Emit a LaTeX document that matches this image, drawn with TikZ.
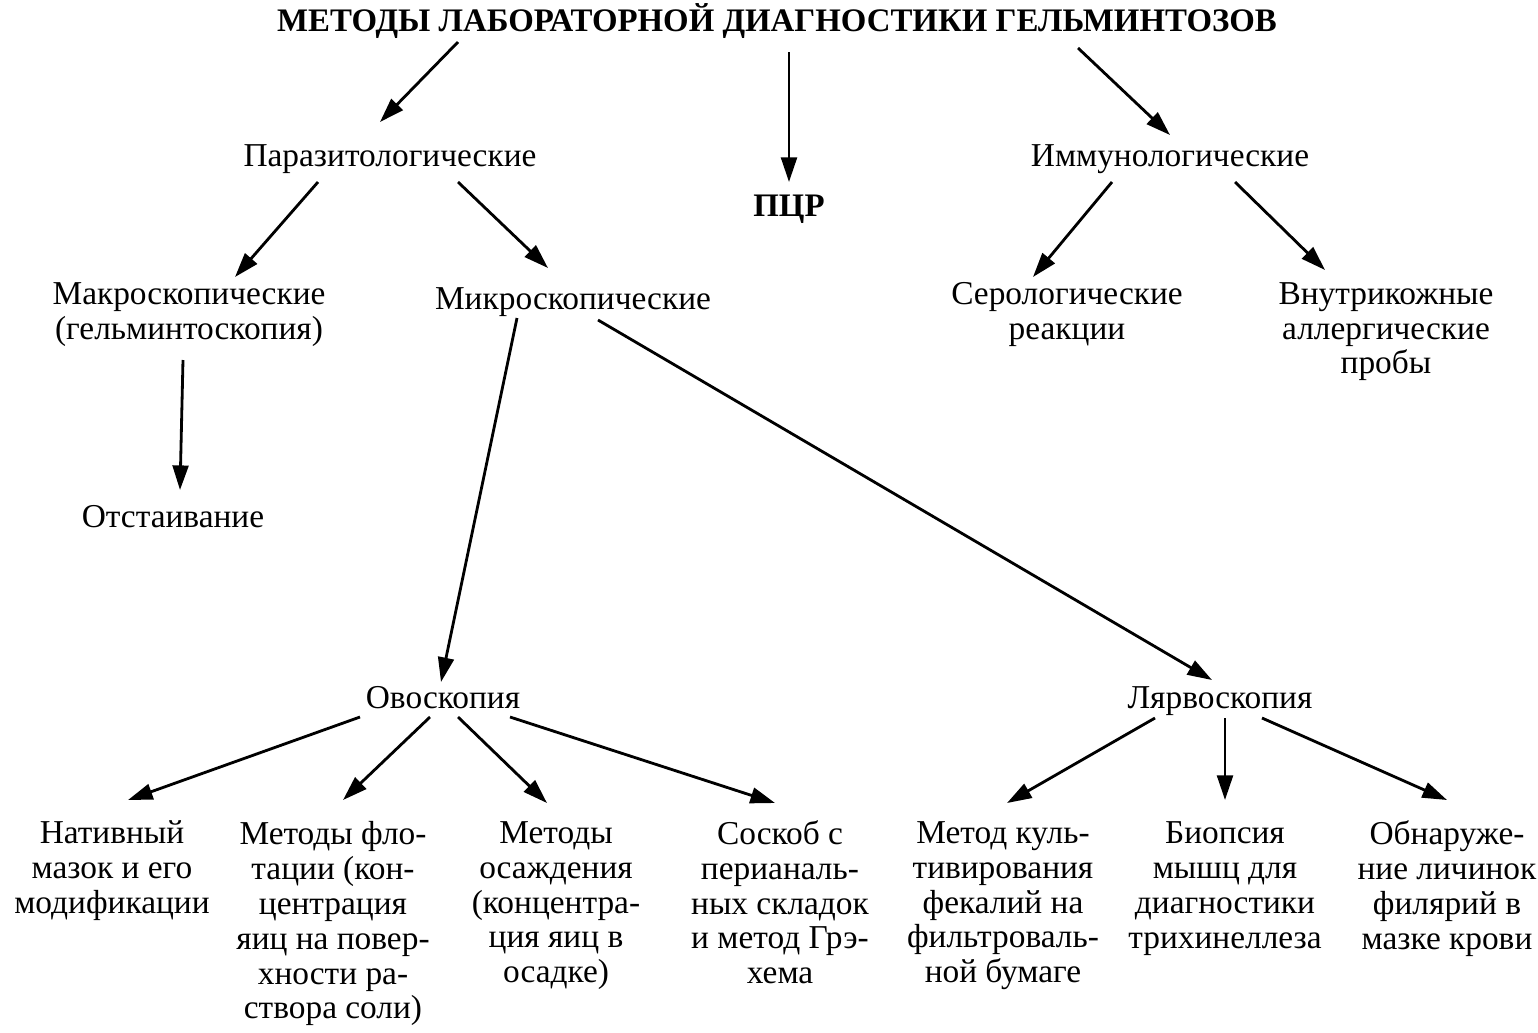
\documentclass[tikz,border=0pt]{standalone}
\usepackage{fontspec}
\setmainfont{Liberation Serif}
\usetikzlibrary{arrows.meta, calc}
\newcommand{\lnstrut}{\rule[-0.28\baselineskip]{0pt}{1.22\baselineskip}}

\begin{document}
\begin{tikzpicture}[
  x=0.02cm, y=-0.02cm,
  txt/.style={inner sep=0pt, align=center, font=\fontsize{19}{19.85}\selectfont,
    execute at begin node=\lnstrut, execute at end node=\lnstrut},
  hd/.style={txt, font=\fontsize{18.7}{19.85}\selectfont\bfseries},
  ar/.style={-{Triangle[length=14pt, width=9pt]}, line width=1.6pt, black},
]
  \useasboundingbox (0,0) rectangle (1538,1032);

  % levels
  \node[hd]  (title)  at (777,20)  {МЕТОДЫ ЛАБОРАТОРНОЙ ДИАГНОСТИКИ ГЕЛЬМИНТОЗОВ};
  \node[txt] (parasit) at (390,155) {Паразитологические};
  \node[hd]  (pcr)    at (789,205) {ПЦР};
  \node[txt] (immun)  at (1170,155) {Иммунологические};
  \node[txt] (macro)  at (189,316) {Макроскопические\\(гельминтоскопия)};
  \node[txt] (micro)  at (573,298) {Микроскопические};
  \node[txt] (sero)   at (1067,316) {Серологические\\реакции};
  \node[txt] (vnutri) at (1386,333) {Внутрикожные\\аллергические\\пробы};
  \node[txt] (otst)   at (173,516) {Отстаивание};
  \node[txt] (ovo)    at (443,697) {Овоскопия};
  \node[txt] (lyarvo) at (1220,697) {Лярвоскопия};

  % bottom row
  \node[txt] (native) at (112,872) {Нативный\\мазок и его\\модификации};
  \node[txt] (flot)   at (333,925) {Методы фло-\\тации (кон-\\центрация\\яиц на повер-\\хности ра-\\створа соли)};
  \node[txt] (osazh)  at (556,907) {Методы\\осаждения\\(концентра-\\ция яиц в\\осадке)};
  \node[txt] (soskob) at (780,907) {Соскоб с\\перианаль-\\ных складок\\и метод Грэ-\\хема};
  \node[txt] (kult)   at (1003,907) {Метод куль-\\тивирования\\фекалий на\\фильтроваль-\\ной бумаге};
  \node[txt] (biop)   at (1225,890) {Биопсия\\мышц для\\диагностики\\трихинеллеза};
  \node[txt] (obnar)  at (1447,890) {Обнаруже-\\ние личинок\\филярий в\\мазке крови};

  \draw[ar] ($(title)+(-319,22)$) -- ($(parasit)+(-10,-33)$);
  \draw[ar] ($(title)+(12,32)$) -- ($(pcr)+(0,-23)$);
  \draw[ar] ($(title)+(301,28)$) -- ($(immun)+(0,-20)$);
  \draw[ar] ($(parasit)+(-72,27)$) -- ($(macro)+(46,-39)$);
  \draw[ar] ($(parasit)+(68,27)$) -- ($(micro)+(-25,-30)$);
  \draw[ar] ($(immun)+(-58,27)$) -- ($(sero)+(-34,-39)$);
  \draw[ar] ($(immun)+(65,27)$) -- ($(vnutri)+(-61,-63)$);
  \draw[ar] ($(macro)+(-6,44)$) -- ($(otst)+(7,-26)$);
  \draw[ar] ($(micro)+(-56,20)$) -- ($(ovo)+(-2,-15)$);
  \draw[ar] ($(micro)+(25,22)$) -- ($(lyarvo)+(-8,-17)$);
  \draw[ar] ($(ovo)+(-83,20)$) -- ($(native)+(16,-72)$);
  \draw[ar] ($(ovo)+(-13,20)$) -- ($(flot)+(10,-125)$);
  \draw[ar] ($(ovo)+(15,20)$) -- ($(osazh)+(-9,-104)$);
  \draw[ar] ($(ovo)+(67,20)$) -- ($(soskob)+(-5,-104)$);
  \draw[ar] ($(lyarvo)+(-65,21)$) -- ($(kult)+(4,-104)$);
  \draw[ar] ($(lyarvo)+(5,21)$) -- ($(biop)+(0,-90)$);
  \draw[ar] ($(lyarvo)+(42,21)$) -- ($(obnar)+(0,-90)$);
\end{tikzpicture}
\end{document}
